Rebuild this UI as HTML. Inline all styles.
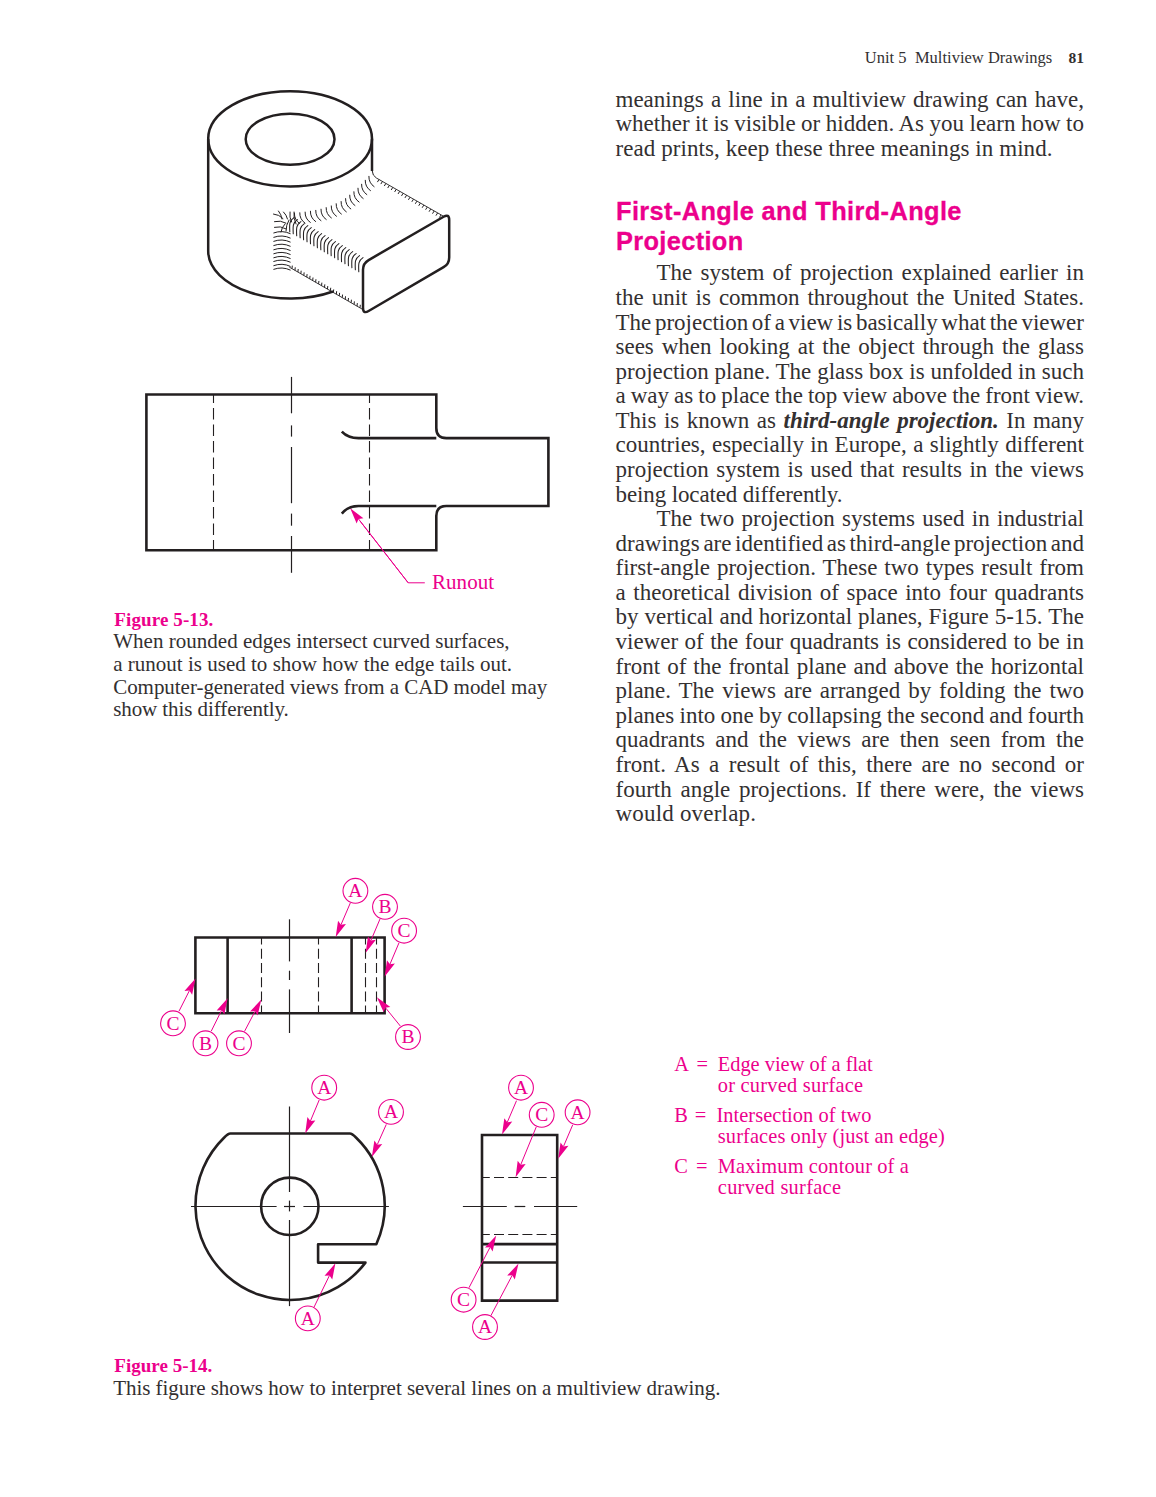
<!DOCTYPE html>
<html><head><meta charset="utf-8"><title>Unit 5 Multiview Drawings</title>
<style>
html,body{margin:0;padding:0;background:#fff}
#page{position:relative;width:1156px;height:1497px;overflow:hidden;background:#fff}
.t{position:absolute;line-height:0;white-space:pre}
svg{position:absolute;left:0;top:0}
</style></head><body><div id="page">
<div class="t" style="left:864.80px;top:57.93px;font-size:16.5px;color:#333031;font-weight:normal;font-style:normal;font-family:'Liberation Serif',serif;letter-spacing:0.016px;">Unit 5&nbsp; Multiview Drawings</div>
<div class="t" style="left:1068.40px;top:58.27px;font-size:15.5px;color:#333031;font-weight:bold;font-style:normal;font-family:'Liberation Serif',serif;">81</div>
<div class="t" style="left:615.50px;top:99.74px;font-size:23px;color:#333031;font-weight:normal;font-style:normal;font-family:'Liberation Serif',serif;word-spacing:1.479px">meanings a line in a multiview drawing can have,</div>
<div class="t" style="left:615.50px;top:124.32px;font-size:23px;color:#333031;font-weight:normal;font-style:normal;font-family:'Liberation Serif',serif;word-spacing:-0.230px">whether it is visible or hidden. As you learn how to</div>
<div class="t" style="left:615.50px;top:148.90px;font-size:23px;color:#333031;font-weight:normal;font-style:normal;font-family:'Liberation Serif',serif;letter-spacing:0.072px;">read prints, keep these three meanings in mind.</div>
<div class="t" style="left:656.50px;top:273.34px;font-size:23px;color:#333031;font-weight:normal;font-style:normal;font-family:'Liberation Serif',serif;word-spacing:2.487px">The system of projection explained earlier in</div>
<div class="t" style="left:615.50px;top:297.92px;font-size:23px;color:#333031;font-weight:normal;font-style:normal;font-family:'Liberation Serif',serif;word-spacing:2.315px">the unit is common throughout the United States.</div>
<div class="t" style="left:615.50px;top:322.50px;font-size:23px;color:#333031;font-weight:normal;font-style:normal;font-family:'Liberation Serif',serif;word-spacing:-2.090px">The projection of a view is basically what the viewer</div>
<div class="t" style="left:615.50px;top:347.08px;font-size:23px;color:#333031;font-weight:normal;font-style:normal;font-family:'Liberation Serif',serif;word-spacing:2.191px">sees when looking at the object through the glass</div>
<div class="t" style="left:615.50px;top:371.66px;font-size:23px;color:#333031;font-weight:normal;font-style:normal;font-family:'Liberation Serif',serif;word-spacing:0.088px">projection plane. The glass box is unfolded in such</div>
<div class="t" style="left:615.50px;top:396.24px;font-size:23px;color:#333031;font-weight:normal;font-style:normal;font-family:'Liberation Serif',serif;word-spacing:-0.703px">a way as to place the top view above the front view.</div>
<div class="t" style="left:615.50px;top:420.82px;font-size:23px;color:#333031;font-weight:normal;font-style:normal;font-family:'Liberation Serif',serif;word-spacing:1.761px">This is known as <b><i>third-angle projection.</i></b> In many</div>
<div class="t" style="left:615.50px;top:445.40px;font-size:23px;color:#333031;font-weight:normal;font-style:normal;font-family:'Liberation Serif',serif;word-spacing:0.656px">countries, especially in Europe, a slightly different</div>
<div class="t" style="left:615.50px;top:469.98px;font-size:23px;color:#333031;font-weight:normal;font-style:normal;font-family:'Liberation Serif',serif;word-spacing:1.709px">projection system is used that results in the views</div>
<div class="t" style="left:615.50px;top:494.56px;font-size:23px;color:#333031;font-weight:normal;font-style:normal;font-family:'Liberation Serif',serif;letter-spacing:-0.117px;">being located differently.</div>
<div class="t" style="left:656.50px;top:519.14px;font-size:23px;color:#333031;font-weight:normal;font-style:normal;font-family:'Liberation Serif',serif;word-spacing:1.620px">The two projection systems used in industrial</div>
<div class="t" style="left:615.50px;top:543.72px;font-size:23px;color:#333031;font-weight:normal;font-style:normal;font-family:'Liberation Serif',serif;word-spacing:-2.177px">drawings are identified as third-angle projection and</div>
<div class="t" style="left:615.50px;top:568.30px;font-size:23px;color:#333031;font-weight:normal;font-style:normal;font-family:'Liberation Serif',serif;word-spacing:1.188px">first-angle projection. These two types result from</div>
<div class="t" style="left:615.50px;top:592.88px;font-size:23px;color:#333031;font-weight:normal;font-style:normal;font-family:'Liberation Serif',serif;word-spacing:1.873px">a theoretical division of space into four quadrants</div>
<div class="t" style="left:615.50px;top:617.46px;font-size:23px;color:#333031;font-weight:normal;font-style:normal;font-family:'Liberation Serif',serif;word-spacing:0.290px">by vertical and horizontal planes, Figure 5-15. The</div>
<div class="t" style="left:615.50px;top:642.04px;font-size:23px;color:#333031;font-weight:normal;font-style:normal;font-family:'Liberation Serif',serif;word-spacing:0.747px">viewer of the four quadrants is considered to be in</div>
<div class="t" style="left:615.50px;top:666.62px;font-size:23px;color:#333031;font-weight:normal;font-style:normal;font-family:'Liberation Serif',serif;word-spacing:1.242px">front of the frontal plane and above the horizontal</div>
<div class="t" style="left:615.50px;top:691.20px;font-size:23px;color:#333031;font-weight:normal;font-style:normal;font-family:'Liberation Serif',serif;word-spacing:2.172px">plane. The views are arranged by folding the two</div>
<div class="t" style="left:615.50px;top:715.78px;font-size:23px;color:#333031;font-weight:normal;font-style:normal;font-family:'Liberation Serif',serif;word-spacing:-0.521px">planes into one by collapsing the second and fourth</div>
<div class="t" style="left:615.50px;top:740.36px;font-size:23px;color:#333031;font-weight:normal;font-style:normal;font-family:'Liberation Serif',serif;word-spacing:4.596px">quadrants and the views are then seen from the</div>
<div class="t" style="left:615.50px;top:764.94px;font-size:23px;color:#333031;font-weight:normal;font-style:normal;font-family:'Liberation Serif',serif;word-spacing:3.672px">front. As a result of this, there are no second or</div>
<div class="t" style="left:615.50px;top:789.52px;font-size:23px;color:#333031;font-weight:normal;font-style:normal;font-family:'Liberation Serif',serif;word-spacing:2.971px">fourth angle projections. If there were, the views</div>
<div class="t" style="left:615.50px;top:814.10px;font-size:23px;color:#333031;font-weight:normal;font-style:normal;font-family:'Liberation Serif',serif;letter-spacing:0.195px;">would overlap.</div>
<div class="t" style="left:616.00px;top:210.83px;font-size:25.4px;color:#ec008c;font-weight:bold;font-style:normal;font-family:'Liberation Sans',sans-serif;letter-spacing:0.376px;-webkit-text-stroke:0.3px #ec008c">First-Angle and Third-Angle</div>
<div class="t" style="left:616.00px;top:240.83px;font-size:25.4px;color:#ec008c;font-weight:bold;font-style:normal;font-family:'Liberation Sans',sans-serif;letter-spacing:0.338px;-webkit-text-stroke:0.3px #ec008c">Projection</div>
<div class="t" style="left:114.30px;top:619.99px;font-size:19px;color:#ec008c;font-weight:bold;font-style:normal;font-family:'Liberation Serif',serif;letter-spacing:0.108px;">Figure 5-13.</div>
<div class="t" style="left:113.20px;top:641.31px;font-size:21px;color:#333031;font-weight:normal;font-style:normal;font-family:'Liberation Serif',serif;letter-spacing:0.024px;">When rounded edges intersect curved surfaces,</div>
<div class="t" style="left:113.20px;top:663.96px;font-size:21px;color:#333031;font-weight:normal;font-style:normal;font-family:'Liberation Serif',serif;letter-spacing:0.011px;">a runout is used to show how the edge tails out.</div>
<div class="t" style="left:113.20px;top:686.61px;font-size:21px;color:#333031;font-weight:normal;font-style:normal;font-family:'Liberation Serif',serif;letter-spacing:-0.041px;">Computer-generated views from a CAD model may</div>
<div class="t" style="left:113.20px;top:709.26px;font-size:21px;color:#333031;font-weight:normal;font-style:normal;font-family:'Liberation Serif',serif;letter-spacing:-0.082px;">show this differently.</div>
<div class="t" style="left:114.30px;top:1366.19px;font-size:19px;color:#ec008c;font-weight:bold;font-style:normal;font-family:'Liberation Serif',serif;letter-spacing:0.017px;">Figure 5-14.</div>
<div class="t" style="left:113.20px;top:1388.01px;font-size:21px;color:#333031;font-weight:normal;font-style:normal;font-family:'Liberation Serif',serif;letter-spacing:-0.040px;">This figure shows how to interpret several lines on a multiview drawing.</div>
<div class="t" style="left:674.30px;top:1064.32px;font-size:20.4px;color:#ec008c;font-weight:normal;font-style:normal;font-family:'Liberation Serif',serif;">A</div>
<div class="t" style="left:696.50px;top:1064.32px;font-size:20.4px;color:#ec008c;font-weight:normal;font-style:normal;font-family:'Liberation Serif',serif;">=</div>
<div class="t" style="left:717.80px;top:1064.32px;font-size:20.4px;color:#ec008c;font-weight:normal;font-style:normal;font-family:'Liberation Serif',serif;letter-spacing:-0.008px;">Edge view of a flat</div>
<div class="t" style="left:717.80px;top:1085.02px;font-size:20.4px;color:#ec008c;font-weight:normal;font-style:normal;font-family:'Liberation Serif',serif;letter-spacing:0.236px;">or curved surface</div>
<div class="t" style="left:674.30px;top:1115.21px;font-size:20.4px;color:#ec008c;font-weight:normal;font-style:normal;font-family:'Liberation Serif',serif;">B</div>
<div class="t" style="left:694.70px;top:1115.21px;font-size:20.4px;color:#ec008c;font-weight:normal;font-style:normal;font-family:'Liberation Serif',serif;">=</div>
<div class="t" style="left:716.40px;top:1115.21px;font-size:20.4px;color:#ec008c;font-weight:normal;font-style:normal;font-family:'Liberation Serif',serif;letter-spacing:0.060px;">Intersection of two</div>
<div class="t" style="left:717.80px;top:1135.91px;font-size:20.4px;color:#ec008c;font-weight:normal;font-style:normal;font-family:'Liberation Serif',serif;letter-spacing:0.103px;">surfaces only (just an edge)</div>
<div class="t" style="left:674.30px;top:1166.32px;font-size:20.4px;color:#ec008c;font-weight:normal;font-style:normal;font-family:'Liberation Serif',serif;">C</div>
<div class="t" style="left:696.00px;top:1166.32px;font-size:20.4px;color:#ec008c;font-weight:normal;font-style:normal;font-family:'Liberation Serif',serif;">=</div>
<div class="t" style="left:717.80px;top:1166.32px;font-size:20.4px;color:#ec008c;font-weight:normal;font-style:normal;font-family:'Liberation Serif',serif;letter-spacing:0.127px;">Maximum contour of a</div>
<div class="t" style="left:717.80px;top:1187.02px;font-size:20.4px;color:#ec008c;font-weight:normal;font-style:normal;font-family:'Liberation Serif',serif;letter-spacing:0.289px;">curved surface</div>
<div class="t" style="left:432.10px;top:581.71px;font-size:21px;color:#ec008c;font-weight:normal;font-style:normal;font-family:'Liberation Serif',serif;letter-spacing:0.011px;">Runout</div>
<svg width="1156" height="1497" viewBox="0 0 1156 1497">
<ellipse cx="290.1" cy="138.8" rx="81.9" ry="47.6" stroke="#231f20" stroke-width="2.5" fill="none"/>
<ellipse cx="290.1" cy="139.2" rx="44.4" ry="25.5" stroke="#231f20" stroke-width="2.5" fill="none"/>
<path d="M208.20000000000002,138.8 L208.20000000000002,251 A81.9,47.6 0 0 0 333,291.55" stroke="#231f20" stroke-width="2.5" fill="none" stroke-linejoin="miter"/>
<path d="M372.0,138.8 L372.0,171" stroke="#231f20" stroke-width="2.5" fill="none" stroke-linejoin="miter"/>
<path d="M372.0,170 Q372.5,176 376.4,178" stroke="#231f20" stroke-width="1.0" fill="none" stroke-linejoin="miter"/>
<path d="M363.00,269.80 Q363.00,263.30 368.63,260.05 L443.57,216.75 Q449.20,213.50 449.20,220.00 L449.20,257.40 Q449.20,263.90 443.59,267.18 L368.61,311.02 Q363.00,314.30 363.00,307.80 Z" stroke="#231f20" stroke-width="2.5" fill="none" stroke-linejoin="round"/>
<line x1="376.4" y1="178" x2="444" y2="216.5" stroke="#231f20" stroke-width="0.9" stroke-linecap="butt"/>
<line x1="379.0" y1="179.5" x2="377.4" y2="182.1" stroke="#231f20" stroke-width="1.0" stroke-linecap="butt"/>
<line x1="382.44" y1="181.47" x2="380.84" y2="184.07" stroke="#231f20" stroke-width="1.0" stroke-linecap="butt"/>
<line x1="385.89" y1="183.44" x2="384.29" y2="186.04" stroke="#231f20" stroke-width="1.0" stroke-linecap="butt"/>
<line x1="389.33" y1="185.42" x2="387.73" y2="188.02" stroke="#231f20" stroke-width="1.0" stroke-linecap="butt"/>
<line x1="392.78" y1="187.39" x2="391.18" y2="189.99" stroke="#231f20" stroke-width="1.0" stroke-linecap="butt"/>
<line x1="396.22" y1="189.36" x2="394.62" y2="191.96" stroke="#231f20" stroke-width="1.0" stroke-linecap="butt"/>
<line x1="399.67" y1="191.33" x2="398.07" y2="193.93" stroke="#231f20" stroke-width="1.0" stroke-linecap="butt"/>
<line x1="403.11" y1="193.31" x2="401.51" y2="195.91" stroke="#231f20" stroke-width="1.0" stroke-linecap="butt"/>
<line x1="406.56" y1="195.28" x2="404.96" y2="197.88" stroke="#231f20" stroke-width="1.0" stroke-linecap="butt"/>
<line x1="410.0" y1="197.25" x2="408.4" y2="199.85" stroke="#231f20" stroke-width="1.0" stroke-linecap="butt"/>
<line x1="413.44" y1="199.22" x2="411.84" y2="201.82" stroke="#231f20" stroke-width="1.0" stroke-linecap="butt"/>
<line x1="416.89" y1="201.19" x2="415.29" y2="203.79" stroke="#231f20" stroke-width="1.0" stroke-linecap="butt"/>
<line x1="420.33" y1="203.17" x2="418.73" y2="205.77" stroke="#231f20" stroke-width="1.0" stroke-linecap="butt"/>
<line x1="423.78" y1="205.14" x2="422.18" y2="207.74" stroke="#231f20" stroke-width="1.0" stroke-linecap="butt"/>
<line x1="427.22" y1="207.11" x2="425.62" y2="209.71" stroke="#231f20" stroke-width="1.0" stroke-linecap="butt"/>
<line x1="430.67" y1="209.08" x2="429.07" y2="211.68" stroke="#231f20" stroke-width="1.0" stroke-linecap="butt"/>
<line x1="434.11" y1="211.06" x2="432.51" y2="213.66" stroke="#231f20" stroke-width="1.0" stroke-linecap="butt"/>
<line x1="437.56" y1="213.03" x2="435.96" y2="215.63" stroke="#231f20" stroke-width="1.0" stroke-linecap="butt"/>
<line x1="441.0" y1="215.0" x2="439.4" y2="217.6" stroke="#231f20" stroke-width="1.0" stroke-linecap="butt"/>
<line x1="289.3" y1="267.1" x2="363" y2="309.6" stroke="#231f20" stroke-width="0.9" stroke-linecap="butt"/>
<line x1="292.0" y1="268.6" x2="292.3" y2="265.6" stroke="#231f20" stroke-width="1.0" stroke-linecap="butt"/>
<line x1="294.96" y1="270.3" x2="295.26" y2="267.3" stroke="#231f20" stroke-width="1.0" stroke-linecap="butt"/>
<line x1="297.91" y1="272.01" x2="298.21" y2="269.01" stroke="#231f20" stroke-width="1.0" stroke-linecap="butt"/>
<line x1="300.87" y1="273.71" x2="301.17" y2="270.71" stroke="#231f20" stroke-width="1.0" stroke-linecap="butt"/>
<line x1="303.83" y1="275.42" x2="304.13" y2="272.42" stroke="#231f20" stroke-width="1.0" stroke-linecap="butt"/>
<line x1="306.78" y1="277.12" x2="307.08" y2="274.12" stroke="#231f20" stroke-width="1.0" stroke-linecap="butt"/>
<line x1="309.74" y1="278.83" x2="310.04" y2="275.83" stroke="#231f20" stroke-width="1.0" stroke-linecap="butt"/>
<line x1="312.7" y1="280.53" x2="313.0" y2="277.53" stroke="#231f20" stroke-width="1.0" stroke-linecap="butt"/>
<line x1="315.65" y1="282.23" x2="315.95" y2="279.23" stroke="#231f20" stroke-width="1.0" stroke-linecap="butt"/>
<line x1="318.61" y1="283.94" x2="318.91" y2="280.94" stroke="#231f20" stroke-width="1.0" stroke-linecap="butt"/>
<line x1="321.57" y1="285.64" x2="321.87" y2="282.64" stroke="#231f20" stroke-width="1.0" stroke-linecap="butt"/>
<line x1="324.52" y1="287.35" x2="324.82" y2="284.35" stroke="#231f20" stroke-width="1.0" stroke-linecap="butt"/>
<line x1="327.48" y1="289.05" x2="327.78" y2="286.05" stroke="#231f20" stroke-width="1.0" stroke-linecap="butt"/>
<line x1="330.43" y1="290.76" x2="330.73" y2="287.76" stroke="#231f20" stroke-width="1.0" stroke-linecap="butt"/>
<line x1="333.39" y1="292.46" x2="333.69" y2="289.46" stroke="#231f20" stroke-width="1.0" stroke-linecap="butt"/>
<line x1="336.35" y1="294.17" x2="336.65" y2="291.17" stroke="#231f20" stroke-width="1.0" stroke-linecap="butt"/>
<line x1="339.3" y1="295.87" x2="339.6" y2="292.87" stroke="#231f20" stroke-width="1.0" stroke-linecap="butt"/>
<line x1="342.26" y1="297.57" x2="342.56" y2="294.57" stroke="#231f20" stroke-width="1.0" stroke-linecap="butt"/>
<line x1="345.22" y1="299.28" x2="345.52" y2="296.28" stroke="#231f20" stroke-width="1.0" stroke-linecap="butt"/>
<line x1="348.17" y1="300.98" x2="348.47" y2="297.98" stroke="#231f20" stroke-width="1.0" stroke-linecap="butt"/>
<line x1="351.13" y1="302.69" x2="351.43" y2="299.69" stroke="#231f20" stroke-width="1.0" stroke-linecap="butt"/>
<line x1="354.09" y1="304.39" x2="354.39" y2="301.39" stroke="#231f20" stroke-width="1.0" stroke-linecap="butt"/>
<line x1="357.04" y1="306.1" x2="357.34" y2="303.1" stroke="#231f20" stroke-width="1.0" stroke-linecap="butt"/>
<line x1="360.0" y1="307.8" x2="360.3" y2="304.8" stroke="#231f20" stroke-width="1.0" stroke-linecap="butt"/>
<path d="M289.80,231.80 C289.50,224.80 289.00,220.80 294.00,217.60" stroke="#231f20" stroke-width="1.05" fill="none" stroke-linecap="round"/>
<path d="M293.25,233.80 C292.95,226.80 292.45,222.80 297.45,219.60" stroke="#231f20" stroke-width="1.05" fill="none" stroke-linecap="round"/>
<path d="M296.70,235.80 C296.40,228.80 295.90,224.80 300.90,221.60" stroke="#231f20" stroke-width="1.05" fill="none" stroke-linecap="round"/>
<path d="M300.15,237.80 C299.85,230.80 299.35,226.80 304.35,223.60" stroke="#231f20" stroke-width="1.05" fill="none" stroke-linecap="round"/>
<path d="M303.60,239.80 C303.30,232.80 302.80,228.80 307.80,225.60" stroke="#231f20" stroke-width="1.05" fill="none" stroke-linecap="round"/>
<path d="M307.05,241.80 C306.75,234.80 306.25,230.80 311.25,227.60" stroke="#231f20" stroke-width="1.05" fill="none" stroke-linecap="round"/>
<path d="M310.50,243.80 C310.20,236.80 309.70,232.80 314.70,229.60" stroke="#231f20" stroke-width="1.05" fill="none" stroke-linecap="round"/>
<path d="M313.95,245.80 C313.65,238.80 313.15,234.80 318.15,231.60" stroke="#231f20" stroke-width="1.05" fill="none" stroke-linecap="round"/>
<path d="M317.40,247.80 C317.10,240.80 316.60,236.80 321.60,233.60" stroke="#231f20" stroke-width="1.05" fill="none" stroke-linecap="round"/>
<path d="M320.85,249.80 C320.55,242.80 320.05,238.80 325.05,235.60" stroke="#231f20" stroke-width="1.05" fill="none" stroke-linecap="round"/>
<path d="M324.30,251.80 C324.00,244.80 323.50,240.80 328.50,237.60" stroke="#231f20" stroke-width="1.05" fill="none" stroke-linecap="round"/>
<path d="M327.75,253.80 C327.45,246.80 326.95,242.80 331.95,239.60" stroke="#231f20" stroke-width="1.05" fill="none" stroke-linecap="round"/>
<path d="M331.20,255.80 C330.90,248.80 330.40,244.80 335.40,241.60" stroke="#231f20" stroke-width="1.05" fill="none" stroke-linecap="round"/>
<path d="M334.65,257.80 C334.35,250.80 333.85,246.80 338.85,243.60" stroke="#231f20" stroke-width="1.05" fill="none" stroke-linecap="round"/>
<path d="M338.10,259.80 C337.80,252.80 337.30,248.80 342.30,245.60" stroke="#231f20" stroke-width="1.05" fill="none" stroke-linecap="round"/>
<path d="M341.55,261.80 C341.25,254.80 340.75,250.80 345.75,247.60" stroke="#231f20" stroke-width="1.05" fill="none" stroke-linecap="round"/>
<path d="M345.00,263.80 C344.70,256.80 344.20,252.80 349.20,249.60" stroke="#231f20" stroke-width="1.05" fill="none" stroke-linecap="round"/>
<path d="M348.45,265.80 C348.15,258.80 347.65,254.80 352.65,251.60" stroke="#231f20" stroke-width="1.05" fill="none" stroke-linecap="round"/>
<path d="M351.90,267.80 C351.60,260.80 351.10,256.80 356.10,253.60" stroke="#231f20" stroke-width="1.05" fill="none" stroke-linecap="round"/>
<path d="M355.35,269.80 C355.05,262.80 354.55,258.80 359.55,255.60" stroke="#231f20" stroke-width="1.05" fill="none" stroke-linecap="round"/>
<path d="M358.80,271.80 C358.50,264.80 358.00,260.80 363.00,257.60" stroke="#231f20" stroke-width="1.05" fill="none" stroke-linecap="round"/>
<path d="M368.89,176.34 Q368.64,182.94 374.11,186.66" stroke="#231f20" stroke-width="1.0" fill="none" stroke-linecap="round"/>
<path d="M365.24,180.30 Q365.00,186.91 370.46,190.63" stroke="#231f20" stroke-width="1.0" fill="none" stroke-linecap="round"/>
<path d="M361.59,184.27 Q361.35,190.87 366.81,194.59" stroke="#231f20" stroke-width="1.0" fill="none" stroke-linecap="round"/>
<path d="M357.95,188.23 Q357.70,194.84 363.17,198.56" stroke="#231f20" stroke-width="1.0" fill="none" stroke-linecap="round"/>
<path d="M353.87,191.75 Q353.62,198.35 359.09,202.07" stroke="#231f20" stroke-width="1.0" fill="none" stroke-linecap="round"/>
<path d="M349.71,195.17 Q349.47,201.78 354.93,205.50" stroke="#231f20" stroke-width="1.0" fill="none" stroke-linecap="round"/>
<path d="M345.55,198.60 Q345.31,205.21 350.77,208.93" stroke="#231f20" stroke-width="1.0" fill="none" stroke-linecap="round"/>
<path d="M341.09,201.54 Q340.84,208.14 346.31,211.86" stroke="#231f20" stroke-width="1.0" fill="none" stroke-linecap="round"/>
<path d="M336.17,203.74 Q335.93,210.35 341.39,214.07" stroke="#231f20" stroke-width="1.0" fill="none" stroke-linecap="round"/>
<path d="M331.26,205.95 Q331.01,212.55 336.48,216.27" stroke="#231f20" stroke-width="1.0" fill="none" stroke-linecap="round"/>
<path d="M326.15,207.63 Q325.90,214.24 331.37,217.95" stroke="#231f20" stroke-width="1.0" fill="none" stroke-linecap="round"/>
<path d="M320.99,209.20 Q320.74,215.80 326.21,219.52" stroke="#231f20" stroke-width="1.0" fill="none" stroke-linecap="round"/>
<path d="M315.74,210.36 Q315.49,216.96 320.96,220.68" stroke="#231f20" stroke-width="1.0" fill="none" stroke-linecap="round"/>
<path d="M310.42,211.23 Q310.18,217.84 315.64,221.56" stroke="#231f20" stroke-width="1.0" fill="none" stroke-linecap="round"/>
<path d="M305.11,212.11 Q304.86,218.71 310.33,222.43" stroke="#231f20" stroke-width="1.0" fill="none" stroke-linecap="round"/>
<path d="M299.77,212.78 Q299.52,219.39 304.99,223.10" stroke="#231f20" stroke-width="1.0" fill="none" stroke-linecap="round"/>
<path d="M294.39,213.14 Q294.14,219.74 299.61,223.46" stroke="#231f20" stroke-width="1.0" fill="none" stroke-linecap="round"/>
<path d="M273.80,232.90 Q282.14,229.85 290.20,233.60" stroke="#231f20" stroke-width="1.0" fill="none" stroke-linecap="round"/>
<path d="M273.80,237.30 Q282.14,234.25 290.20,238.00" stroke="#231f20" stroke-width="1.0" fill="none" stroke-linecap="round"/>
<path d="M273.80,241.30 Q282.14,238.25 290.20,242.00" stroke="#231f20" stroke-width="1.0" fill="none" stroke-linecap="round"/>
<path d="M273.80,245.50 Q282.14,242.45 290.20,246.20" stroke="#231f20" stroke-width="1.0" fill="none" stroke-linecap="round"/>
<path d="M273.80,249.70 Q282.14,246.65 290.20,250.40" stroke="#231f20" stroke-width="1.0" fill="none" stroke-linecap="round"/>
<path d="M273.80,253.70 Q282.14,250.65 290.20,254.40" stroke="#231f20" stroke-width="1.0" fill="none" stroke-linecap="round"/>
<path d="M273.80,257.70 Q282.14,254.65 290.20,258.40" stroke="#231f20" stroke-width="1.0" fill="none" stroke-linecap="round"/>
<path d="M273.80,261.40 Q282.14,258.35 290.20,262.10" stroke="#231f20" stroke-width="1.0" fill="none" stroke-linecap="round"/>
<path d="M273.80,265.60 Q282.14,262.55 290.20,266.30" stroke="#231f20" stroke-width="1.0" fill="none" stroke-linecap="round"/>
<path d="M273.80,269.30 Q282.14,266.25 290.20,270.00" stroke="#231f20" stroke-width="1.0" fill="none" stroke-linecap="round"/>
<path d="M274.50,221.60 Q280.56,219.97 286.00,223.10" stroke="#231f20" stroke-width="1.0" fill="none" stroke-linecap="round"/>
<path d="M274.50,227.30 Q280.56,225.67 286.00,228.80" stroke="#231f20" stroke-width="1.0" fill="none" stroke-linecap="round"/>
<path d="M273.50,214.00 Q279.11,214.44 283.00,218.50" stroke="#231f20" stroke-width="1.0" fill="none" stroke-linecap="round"/>
<path d="M278.50,211.00 Q281.35,214.52 282.00,219.00" stroke="#231f20" stroke-width="1.0" fill="none" stroke-linecap="round"/>
<path d="M283.50,212.00 Q286.54,214.90 287.50,219.00" stroke="#231f20" stroke-width="1.0" fill="none" stroke-linecap="round"/>
<path d="M290.00,212.00 Q289.17,217.24 291.50,222.00" stroke="#231f20" stroke-width="1.0" fill="none" stroke-linecap="round"/>
<path d="M294.00,212.00 Q293.22,218.30 296.00,224.00" stroke="#231f20" stroke-width="1.0" fill="none" stroke-linecap="round"/>
<path d="M285.00,224.00 Q281.57,227.28 281.00,232.00" stroke="#231f20" stroke-width="1.0" fill="none" stroke-linecap="round"/>
<path d="M289.00,220.00 Q285.96,225.08 286.00,231.00" stroke="#231f20" stroke-width="1.0" fill="none" stroke-linecap="round"/>
<path d="M146.4,394.5 L436.3,394.5 L436.3,428 Q436.3,438.1 446.3,438.1 L548.4,438.1 L548.4,506 L446.3,506 Q436.3,506 436.3,516 L436.3,550.3 L146.4,550.3 Z" stroke="#231f20" stroke-width="2.6" fill="none" stroke-linejoin="miter"/>
<path d="M341.8,431.6 Q348,438.1 358.5,438.1 L436.3,438.1" stroke="#231f20" stroke-width="2.6" fill="none" stroke-linejoin="miter"/>
<path d="M341.8,513.6 Q348,506 358.5,506 L436.3,506" stroke="#231f20" stroke-width="2.6" fill="none" stroke-linejoin="miter"/>
<line x1="213.5" y1="394.5" x2="213.5" y2="550.3" stroke="#231f20" stroke-width="1.1" stroke-dasharray="11.3 5.2" stroke-dashoffset="2.9"/>
<line x1="369.5" y1="394.5" x2="369.5" y2="550.3" stroke="#231f20" stroke-width="1.1" stroke-dasharray="11.3 5.2" stroke-dashoffset="2.9"/>
<line x1="291.5" y1="376.9" x2="291.5" y2="413.3" stroke="#231f20" stroke-width="1.2" stroke-linecap="butt"/>
<line x1="291.5" y1="425.4" x2="291.5" y2="436.6" stroke="#231f20" stroke-width="1.2" stroke-linecap="butt"/>
<line x1="291.5" y1="447.0" x2="291.5" y2="503.2" stroke="#231f20" stroke-width="1.2" stroke-linecap="butt"/>
<line x1="291.5" y1="513.6" x2="291.5" y2="525.7" stroke="#231f20" stroke-width="1.2" stroke-linecap="butt"/>
<line x1="291.5" y1="536.0" x2="291.5" y2="572.8" stroke="#231f20" stroke-width="1.2" stroke-linecap="butt"/>
<path d="M424.8,582.8 L408.2,582.8 L360,521" stroke="#ec008c" stroke-width="1.0" fill="none" stroke-linejoin="miter"/>
<line x1="408.2" y1="582.8" x2="358.46" y2="518.91" stroke="#ec008c" stroke-width="1.0" stroke-linecap="butt"/>
<path d="M350.20,508.30 L363.42,518.28 L358.46,518.91 L356.64,523.57 Z" fill="#ec008c"/>
<path d="M195.4,937.5 L384.6,937.5 L384.6,1013.3 L195.4,1013.3 Z" stroke="#231f20" stroke-width="2.6" fill="none" stroke-linejoin="miter"/>
<line x1="227.6" y1="937.5" x2="227.6" y2="1013.3" stroke="#231f20" stroke-width="2.6" stroke-linecap="butt"/>
<line x1="351.6" y1="937.5" x2="351.6" y2="1013.3" stroke="#231f20" stroke-width="2.6" stroke-linecap="butt"/>
<line x1="261.5" y1="937.3" x2="261.5" y2="1013.6" stroke="#231f20" stroke-width="1.1" stroke-dasharray="10 4.2" stroke-dashoffset="2.7"/>
<line x1="318.5" y1="937.3" x2="318.5" y2="1013.6" stroke="#231f20" stroke-width="1.1" stroke-dasharray="10 4.2" stroke-dashoffset="2.7"/>
<line x1="365.5" y1="937.3" x2="365.5" y2="1013.6" stroke="#231f20" stroke-width="1.1" stroke-dasharray="10 4.2" stroke-dashoffset="2.7"/>
<line x1="376.5" y1="937.3" x2="376.5" y2="1013.6" stroke="#231f20" stroke-width="1.1" stroke-dasharray="10 4.2" stroke-dashoffset="2.7"/>
<line x1="289.5" y1="919.3" x2="289.5" y2="961.4" stroke="#231f20" stroke-width="1.2" stroke-linecap="butt"/>
<line x1="289.5" y1="970.7" x2="289.5" y2="980.0" stroke="#231f20" stroke-width="1.2" stroke-linecap="butt"/>
<line x1="289.5" y1="989.4" x2="289.5" y2="1033.0" stroke="#231f20" stroke-width="1.2" stroke-linecap="butt"/>
<circle cx="355.4" cy="890.8" r="12.4" stroke="#ec008c" stroke-width="1.1" fill="none"/>
<text x="355.4" y="897.1999999999999" text-anchor="middle" font-family="Liberation Serif" font-size="19.5" fill="#ec008c">A</text>
<line x1="350.4" y1="902.8" x2="340.99" y2="924.75" stroke="#ec008c" stroke-width="1.0" stroke-linecap="butt"/>
<path d="M335.70,937.10 L338.05,920.70 L340.99,924.75 L345.96,924.09 Z" fill="#ec008c"/>
<circle cx="385" cy="906.8" r="12.4" stroke="#ec008c" stroke-width="1.1" fill="none"/>
<text x="385" y="913.1999999999999" text-anchor="middle" font-family="Liberation Serif" font-size="19.5" fill="#ec008c">B</text>
<line x1="380" y1="919" x2="370.94" y2="940.42" stroke="#ec008c" stroke-width="1.0" stroke-linecap="butt"/>
<path d="M365.70,952.80 L367.97,936.39 L370.94,940.42 L375.89,939.74 Z" fill="#ec008c"/>
<circle cx="404.1" cy="930.7" r="12.4" stroke="#ec008c" stroke-width="1.1" fill="none"/>
<text x="404.1" y="937.1" text-anchor="middle" font-family="Liberation Serif" font-size="19.5" fill="#ec008c">C</text>
<line x1="399" y1="942.8" x2="389.94" y2="964.22" stroke="#ec008c" stroke-width="1.0" stroke-linecap="butt"/>
<path d="M384.70,976.60 L386.97,960.19 L389.94,964.22 L394.89,963.54 Z" fill="#ec008c"/>
<circle cx="173" cy="1023.3" r="12.4" stroke="#ec008c" stroke-width="1.1" fill="none"/>
<text x="173" y="1029.7" text-anchor="middle" font-family="Liberation Serif" font-size="19.5" fill="#ec008c">C</text>
<line x1="179" y1="1011.2" x2="189.43" y2="990.59" stroke="#ec008c" stroke-width="1.0" stroke-linecap="butt"/>
<path d="M195.50,978.60 L192.11,994.82 L189.43,990.59 L184.44,990.93 Z" fill="#ec008c"/>
<circle cx="205.5" cy="1043.3" r="12.4" stroke="#ec008c" stroke-width="1.1" fill="none"/>
<text x="205.5" y="1049.7" text-anchor="middle" font-family="Liberation Serif" font-size="19.5" fill="#ec008c">B</text>
<line x1="211.3" y1="1031" x2="221.62" y2="1010.24" stroke="#ec008c" stroke-width="1.0" stroke-linecap="butt"/>
<path d="M227.60,998.20 L224.33,1014.44 L221.62,1010.24 L216.63,1010.61 Z" fill="#ec008c"/>
<circle cx="239" cy="1043.3" r="12.4" stroke="#ec008c" stroke-width="1.1" fill="none"/>
<text x="239" y="1049.7" text-anchor="middle" font-family="Liberation Serif" font-size="19.5" fill="#ec008c">C</text>
<line x1="244.5" y1="1031.4" x2="255.05" y2="1011.3" stroke="#ec008c" stroke-width="1.0" stroke-linecap="butt"/>
<path d="M261.30,999.40 L257.67,1015.57 L255.05,1011.30 L250.06,1011.57 Z" fill="#ec008c"/>
<circle cx="408" cy="1037" r="12.4" stroke="#ec008c" stroke-width="1.1" fill="none"/>
<text x="408" y="1043.4" text-anchor="middle" font-family="Liberation Serif" font-size="19.5" fill="#ec008c">B</text>
<line x1="400.3" y1="1026" x2="385.38" y2="1007.63" stroke="#ec008c" stroke-width="1.0" stroke-linecap="butt"/>
<path d="M376.90,997.20 L390.33,1006.91 L385.38,1007.63 L383.65,1012.33 Z" fill="#ec008c"/>
<path d="M230.4,1133.5 L349.8,1133.5 Q352.08,1133.5 355.97,1137.5 A94.6,94.6 0 0 1 376.33,1244.3 L318.1,1244.3 L318.1,1262.6 L365.45,1262.6 A94.6,94.6 0 1 1 224.23,1137.5 Q228.12,1133.5 230.4,1133.5 Z" stroke="#231f20" stroke-width="2.6" fill="none" stroke-linejoin="round"/>
<circle cx="289.8" cy="1206.3" r="28.7" stroke="#231f20" stroke-width="2.6" fill="none"/>
<line x1="191.0" y1="1206.5" x2="276.6" y2="1206.5" stroke="#231f20" stroke-width="1.2" stroke-linecap="butt"/>
<line x1="284.0" y1="1206.5" x2="295.0" y2="1206.5" stroke="#231f20" stroke-width="1.2" stroke-linecap="butt"/>
<line x1="303.4" y1="1206.5" x2="388.9" y2="1206.5" stroke="#231f20" stroke-width="1.2" stroke-linecap="butt"/>
<line x1="289.5" y1="1106.5" x2="289.5" y2="1192.0" stroke="#231f20" stroke-width="1.2" stroke-linecap="butt"/>
<line x1="289.5" y1="1200.6" x2="289.5" y2="1211.4" stroke="#231f20" stroke-width="1.2" stroke-linecap="butt"/>
<line x1="289.5" y1="1220.0" x2="289.5" y2="1306.1" stroke="#231f20" stroke-width="1.2" stroke-linecap="butt"/>
<circle cx="324.2" cy="1087.7" r="12.4" stroke="#ec008c" stroke-width="1.1" fill="none"/>
<text x="324.2" y="1094.1000000000001" text-anchor="middle" font-family="Liberation Serif" font-size="19.5" fill="#ec008c">A</text>
<line x1="319.2" y1="1100" x2="310.38" y2="1121.1" stroke="#ec008c" stroke-width="1.0" stroke-linecap="butt"/>
<path d="M305.20,1133.50 L307.40,1117.08 L310.38,1121.10 L315.34,1120.40 Z" fill="#ec008c"/>
<circle cx="391" cy="1111.9" r="12.4" stroke="#ec008c" stroke-width="1.1" fill="none"/>
<text x="391" y="1118.3000000000002" text-anchor="middle" font-family="Liberation Serif" font-size="19.5" fill="#ec008c">A</text>
<line x1="386.3" y1="1124.4" x2="377.28" y2="1144.63" stroke="#ec008c" stroke-width="1.0" stroke-linecap="butt"/>
<path d="M371.80,1156.90 L374.39,1140.54 L377.28,1144.63 L382.25,1144.04 Z" fill="#ec008c"/>
<circle cx="307.8" cy="1318.4" r="12.4" stroke="#ec008c" stroke-width="1.1" fill="none"/>
<text x="307.8" y="1324.8000000000002" text-anchor="middle" font-family="Liberation Serif" font-size="19.5" fill="#ec008c">A</text>
<line x1="313.8" y1="1307.6" x2="329.51" y2="1275.38" stroke="#ec008c" stroke-width="1.0" stroke-linecap="butt"/>
<path d="M335.40,1263.30 L332.25,1279.57 L329.51,1275.38 L324.52,1275.80 Z" fill="#ec008c"/>
<path d="M482,1135 L557.2,1135 L557.2,1300.6 L482,1300.6 Z" stroke="#231f20" stroke-width="2.6" fill="none" stroke-linejoin="miter"/>
<line x1="482" y1="1244.1" x2="557.2" y2="1244.1" stroke="#231f20" stroke-width="2.6" stroke-linecap="butt"/>
<line x1="482" y1="1262.5" x2="557.2" y2="1262.5" stroke="#231f20" stroke-width="2.6" stroke-linecap="butt"/>
<line x1="482.4" y1="1177.5" x2="557" y2="1177.5" stroke="#231f20" stroke-width="1.1" stroke-dasharray="10 4.2" stroke-dashoffset="2.6"/>
<line x1="482.4" y1="1234.5" x2="557" y2="1234.5" stroke="#231f20" stroke-width="1.1" stroke-dasharray="10 4.2" stroke-dashoffset="2.6"/>
<line x1="462.9" y1="1206.5" x2="506.8" y2="1206.5" stroke="#231f20" stroke-width="1.2" stroke-linecap="butt"/>
<line x1="514.6" y1="1206.5" x2="525.3" y2="1206.5" stroke="#231f20" stroke-width="1.2" stroke-linecap="butt"/>
<line x1="534.0" y1="1206.5" x2="577.2" y2="1206.5" stroke="#231f20" stroke-width="1.2" stroke-linecap="butt"/>
<circle cx="521" cy="1087.7" r="12.4" stroke="#ec008c" stroke-width="1.1" fill="none"/>
<text x="521" y="1094.1000000000001" text-anchor="middle" font-family="Liberation Serif" font-size="19.5" fill="#ec008c">A</text>
<line x1="516.5" y1="1100.7" x2="507.29" y2="1122.24" stroke="#ec008c" stroke-width="1.0" stroke-linecap="butt"/>
<path d="M502.00,1134.60 L504.34,1118.20 L507.29,1122.24 L512.25,1121.58 Z" fill="#ec008c"/>
<circle cx="541.7" cy="1114.8" r="12.4" stroke="#ec008c" stroke-width="1.1" fill="none"/>
<text x="541.7" y="1121.2" text-anchor="middle" font-family="Liberation Serif" font-size="19.5" fill="#ec008c">C</text>
<line x1="536.3" y1="1126.8" x2="520.71" y2="1164.77" stroke="#ec008c" stroke-width="1.0" stroke-linecap="butt"/>
<path d="M515.60,1177.20 L517.70,1160.77 L520.71,1164.77 L525.66,1164.03 Z" fill="#ec008c"/>
<circle cx="577.6" cy="1112.3" r="12.4" stroke="#ec008c" stroke-width="1.1" fill="none"/>
<text x="577.6" y="1118.7" text-anchor="middle" font-family="Liberation Serif" font-size="19.5" fill="#ec008c">A</text>
<line x1="572.7" y1="1124.9" x2="563.49" y2="1146.44" stroke="#ec008c" stroke-width="1.0" stroke-linecap="butt"/>
<path d="M558.20,1158.80 L560.54,1142.40 L563.49,1146.44 L568.45,1145.78 Z" fill="#ec008c"/>
<circle cx="463.6" cy="1299.7" r="12.4" stroke="#ec008c" stroke-width="1.1" fill="none"/>
<text x="463.6" y="1306.1000000000001" text-anchor="middle" font-family="Liberation Serif" font-size="19.5" fill="#ec008c">C</text>
<line x1="469" y1="1287.7" x2="490.0" y2="1247.32" stroke="#ec008c" stroke-width="1.0" stroke-linecap="butt"/>
<path d="M496.20,1235.40 L492.63,1251.58 L490.00,1247.32 L485.00,1247.61 Z" fill="#ec008c"/>
<circle cx="485" cy="1327" r="12.4" stroke="#ec008c" stroke-width="1.1" fill="none"/>
<text x="485" y="1333.4" text-anchor="middle" font-family="Liberation Serif" font-size="19.5" fill="#ec008c">A</text>
<line x1="490.8" y1="1315.8" x2="512.22" y2="1275.28" stroke="#ec008c" stroke-width="1.0" stroke-linecap="butt"/>
<path d="M518.50,1263.40 L514.82,1279.55 L512.22,1275.28 L507.22,1275.54 Z" fill="#ec008c"/>
</svg>
</div></body></html>
